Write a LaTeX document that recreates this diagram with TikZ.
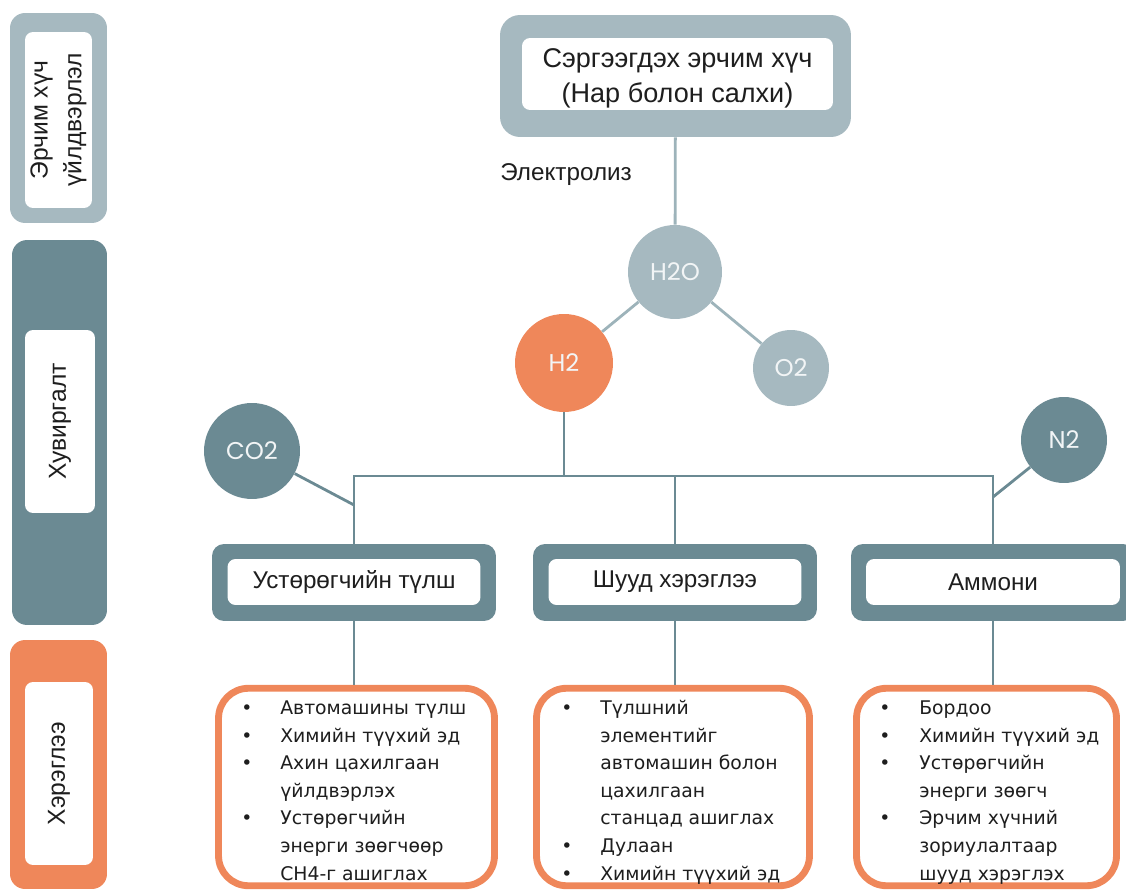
\documentclass[tikz,border=0pt]{standalone}
\usepackage{fontspec}
\setmainfont{Liberation Sans}
\newfontfamily\bulletfont{DejaVu Sans}
\newfontfamily\gasfont{Poppins}

\definecolor{palegrey}{HTML}{A6B9C0}
\definecolor{stemgrey}{HTML}{9DB3BA}
\definecolor{slategrey}{HTML}{6B8A93}
\definecolor{flame}{HTML}{EF875A}
\definecolor{ink}{HTML}{1E1E1E}
\definecolor{gastext}{HTML}{F2F5F6}

\begin{document}
\begin{tikzpicture}[x=0.02cm,y=-0.02cm,
  shell/.style={rectangle,fill=#1,inner sep=0pt},
  inset/.style={rectangle,fill=white,rounded corners=0.16cm,inner sep=0pt,text=ink},
  gas/.style={circle,fill=#1,text=gastext,inner sep=0pt,font=\gasfont\fontsize{13.8}{15}\selectfont},
  link/.style={draw=#1,line width=1.6pt},
  usebox/.style={rectangle,draw=flame,line width=3.9pt,fill=white,rounded corners=0.6cm,inner sep=0pt},
  bullets/.style={anchor=north west,inner sep=0pt,text=ink,font=\bulletfont\fontsize{10.7}{15.7}\selectfont}]
\useasboundingbox (0,0) rectangle (1126,891);
\clip (0,0) rectangle (1126,891);

% stage bars on the left
\path (58.5,118) node[shell=palegrey,rounded corners=0.3cm,minimum width=1.94cm,minimum height=4.2cm] (supplybar) {};
\path (58.5,120) node[inset,rotate=90,minimum width=3.52cm,minimum height=1.34cm,align=center,font=\fontsize{14}{19.3}\selectfont] (supplytag) {Эрчим хүч\\үйлдвэрлэл};
\path (59.5,432.5) node[shell=slategrey,rounded corners=0.3cm,minimum width=1.9cm,minimum height=7.7cm] (convbar) {};
\path (60,421.5) node[inset,rotate=90,minimum width=3.66cm,minimum height=1.4cm,font=\fontsize{14}{16}\selectfont] (convtag) {Хувиргалт};
\path (58.5,764.5) node[shell=flame,rounded corners=0.3cm,minimum width=1.94cm,minimum height=4.98cm] (usebar) {};
\path (59,773.5) node[inset,rotate=90,minimum width=3.66cm,minimum height=1.36cm,font=\fontsize{14}{16}\selectfont] (usetag) {Хэрэглээ};

% source
\path (675.5,76) node[shell=palegrey,rounded corners=0.4cm,minimum width=7.02cm,minimum height=2.44cm] (source) {};
\path (677.5,74) node[inset,minimum width=6.22cm,minimum height=1.44cm] (sourcetag) {};
\path (677.5,78) node[align=center,inner sep=0pt,text=ink,font=\fontsize{15.4}{20}\selectfont] (sourcetext) {Сэргээгдэх эрчим хүч\\(Нар болон салхи)};
\path (500,175) node[anchor=west,inner sep=0pt,text=ink,font=\fontsize{13.8}{15}\selectfont] (electro) {Электролиз};

% gases
\path (675,272) node[gas=palegrey,minimum size=1.88cm] (h2o) {H2O};
\path (564,363) node[gas=flame,minimum size=1.96cm] (h2) {H2};
\path (791,368) node[gas=palegrey,minimum size=1.52cm] (o2) {O2};
\path (252,451) node[gas=slategrey,minimum size=1.92cm] (co2) {CO2};
\path (1064,440) node[gas=slategrey,minimum size=1.72cm] (n2) {N2};

\draw[link=stemgrey] (source) -- (h2o);
\draw[link=stemgrey] (h2o) -- (h2);
\draw[link=stemgrey] (h2o) -- (o2);

% carriers
\path (354,582.5) node[shell=slategrey,rounded corners=0.24cm,minimum width=5.68cm,minimum height=1.54cm] (fuel) {};
\path (354,582) node[inset,minimum width=5.06cm,minimum height=0.92cm,font=\fontsize{13.8}{15}\selectfont] (fueltag) {Устөрөгчийн түлш};
\path (675,582.5) node[shell=slategrey,rounded corners=0.24cm,minimum width=5.68cm,minimum height=1.54cm] (direct) {};
\path (675,582) node[inset,minimum width=5.06cm,minimum height=0.92cm,font=\fontsize{13.8}{15}\selectfont] (directtag) {Шууд хэрэглээ};
\path (993,582.5) node[shell=slategrey,rounded corners=0.24cm,minimum width=5.68cm,minimum height=1.54cm] (ammonia) {};
\path (993,582) node[inset,minimum width=5.08cm,minimum height=0.92cm,font=\fontsize{13.8}{15}\selectfont] (ammoniatag) {Аммони};

\coordinate (fork) at (564,476);
\coordinate (co2join) at (354,505);
\coordinate (n2join) at (993,497);
\draw[link=slategrey] (h2) -- (fork);
\draw[link=slategrey] (fuel.north) -- (fuel.north |- fork) -- (ammonia.north |- fork) -- (ammonia.north);
\draw[link=slategrey] (direct.north) -- (direct.north |- fork);
\draw[link=slategrey] (co2) -- (co2join);
\draw[link=slategrey] (n2) -- (n2join);

% uses
\path (356.5,787) node[usebox,minimum width=5.52cm,minimum height=3.95cm] (fueluse) {};
\path (673,787) node[usebox,minimum width=5.46cm,minimum height=3.95cm] (directuse) {};
\path (986.5,787) node[usebox,minimum width=5.2cm,minimum height=3.95cm] (ammoniause) {};
\draw[link=slategrey] (fuel.south) -- (fuel.south |- fueluse.north);
\draw[link=slategrey] (direct.south) -- (direct.south |- directuse.north);
\draw[link=slategrey] (ammonia.south) -- (ammonia.south |- ammoniause.north);

\path (241,695) node[bullets] (fuellist) {\begin{tabular}{@{}p{0.78cm}@{}l@{}}
• & Автомашины түлш\\
• & Химийн түүхий эд\\
• & Ахин цахилгаан\\
  & үйлдвэрлэх\\
• & Устөрөгчийн\\
  & энерги зөөгчөөр\\
  & CH4-г ашиглах
\end{tabular}};
\path (561,695) node[bullets] (directlist) {\begin{tabular}{@{}p{0.78cm}@{}l@{}}
• & Түлшний\\
  & элементийг\\
  & автомашин болон\\
  & цахилгаан\\
  & станцад ашиглах\\
• & Дулаан\\
• & Химийн түүхий эд
\end{tabular}};
\path (879,695) node[bullets] (ammonialist) {\begin{tabular}{@{}p{0.8cm}@{}l@{}}
• & Бордоо\\
• & Химийн түүхий эд\\
• & Устөрөгчийн\\
  & энерги зөөгч\\
• & Эрчим хүчний\\
  & зориулалтаар\\
  & шууд хэрэглэх
\end{tabular}};
\end{tikzpicture}
\end{document}
